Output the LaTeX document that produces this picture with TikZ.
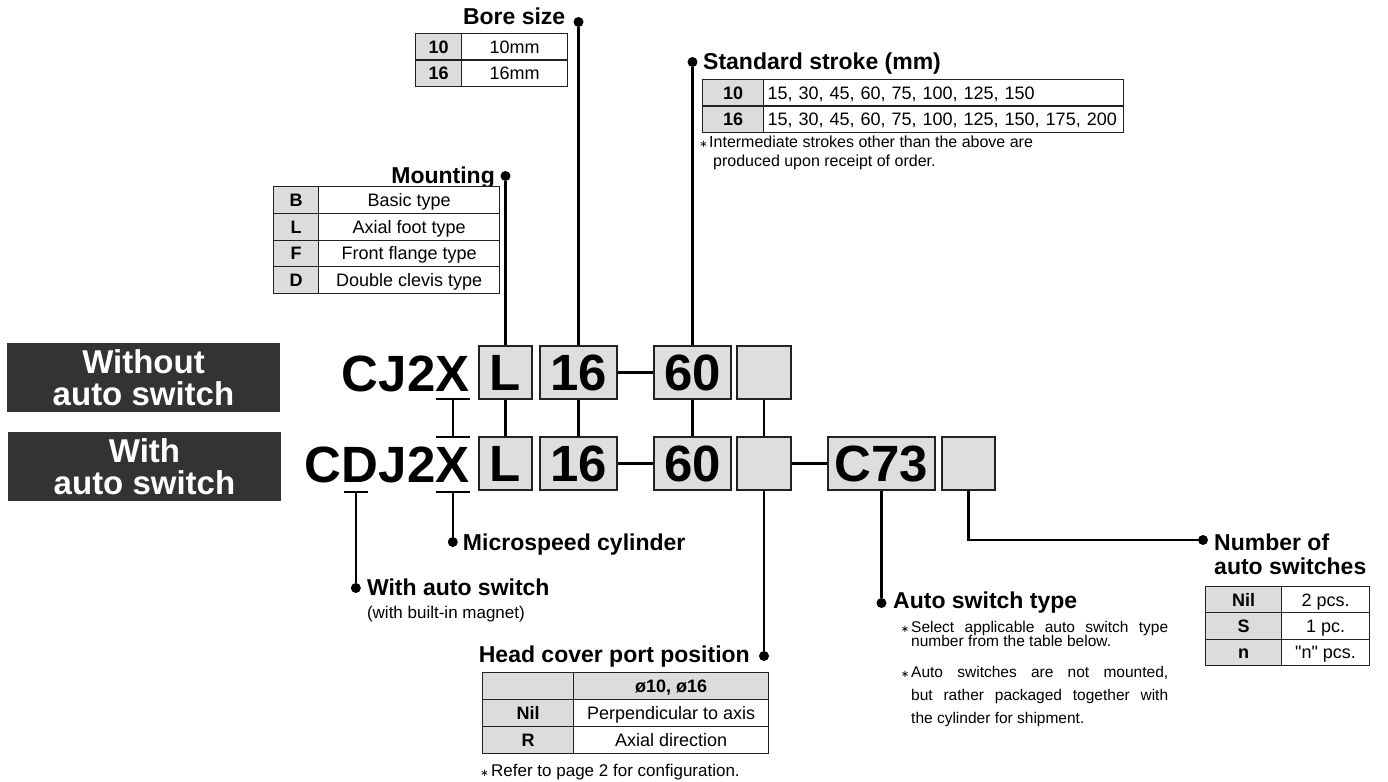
\documentclass[tikz,border=0pt]{standalone}
\usepackage{fontspec}
\setmainfont{Liberation Sans}[Ligatures=TeXOff]
\newfontfamily\djv{DejaVu Sans}
\usetikzlibrary{calc}
\newcommand\fsz[1]{\fontsize{#1}{#1}\selectfont}
\definecolor{boxgray}{HTML}{DEDEDE}
\definecolor{cellgray}{HTML}{DCDCDC}
\definecolor{darkfill}{HTML}{333333}
\definecolor{rulec}{HTML}{222222}
\begin{document}
\begin{tikzpicture}[x=1pt,y=-1pt,
  codebox/.style={draw=rulec, line width=2.6, fill=boxgray, inner sep=0, minimum height=53, font=\fsz{51}\bfseries},
  code/.style={inner sep=0, font=\fsz{51}\bfseries},
  conn/.style={line width=2.5, draw=black},
  dotn/.style={circle, fill=black, inner sep=0, minimum size=10},
  head/.style={inner sep=0, font=\fsz{23}\bfseries},
  cellg/.style={draw=rulec, line width=1.1, fill=cellgray, inner sep=0, anchor=north west, text height=13, text depth=0, font=\fsz{18}\bfseries},
  cellw/.style={draw=rulec, line width=1.1, fill=white, inner sep=0, anchor=north west, text height=13, text depth=0, font=\fsz{18}},
  note/.style={inner sep=0, anchor=base west, font=\fsz{16}},
  astn/.style={inner sep=0, anchor=base, font=\djv\fsz{10}},
  darkbox/.style={fill=darkfill, text=white, font=\fontsize{33}{32}\selectfont\bfseries, align=center, minimum width=273, minimum height=69, inner sep=0}
]
\useasboundingbox (0,0) rectangle (1388,781);

% left labels
\node[darkbox] (bwo) at (143.5,377.5) {Without\\auto switch};
\node[darkbox] (bw) at (144.5,466.5) {With\\auto switch};

% code boxes upper row
\node[codebox, minimum width=53] (uL) at (505.5,372.5) {L};
\node[codebox, minimum width=77] (u16) at (578.5,372.5) {16};
\node[codebox, minimum width=77] (u60) at (692.5,372.5) {60};
\node[codebox, minimum width=54] (ublank) at (764,372.5) {};
% lower row
\node[codebox, minimum width=53] (lL) at (505.5,463.5) {L};
\node[codebox, minimum width=77] (l16) at (578.5,463.5) {16};
\node[codebox, minimum width=77] (l60) at (692.5,463.5) {60};
\node[codebox, minimum width=54] (lblank) at (764,463.5) {};
\node[codebox, minimum width=107] (lC73) at (881.5,463.5) {C73};
\node[codebox, minimum width=53] (llast) at (968.5,463.5) {};

% codes
\node[code, anchor=base east] (ux) at (470,391) {X};
\node[code, anchor=base east] (ucj) at (ux.base west) {CJ2};
\node[code, anchor=base east] (lx) at (470,482) {X};
\node[code, anchor=base east] (lj) at (lx.base west) {J2};
\node[code, anchor=base east] (ld) at (lj.base west) {D};
\node[code, anchor=base east] (lc) at (ld.base west) {C};

% X markers
\coordinate (uxul) at ($(ux.base west)+(0,8)$);
\coordinate (uxur) at ($(ux.base east)+(0,8)$);
\coordinate (uxm) at ($(ux.base)+(0,8)$);
\coordinate (lxtl) at ($(lx.base west)+(0,-45)$);
\coordinate (lxtr) at ($(lx.base east)+(0,-45)$);
\coordinate (lxtm) at ($(lx.base)+(0,-45)$);
\coordinate (lxbl) at ($(lx.base west)+(0,10)$);
\coordinate (lxbr) at ($(lx.base east)+(0,10)$);
\coordinate (lxbm) at ($(lx.base)+(0,10)$);
\draw[conn] (uxul) -- (uxur);
\draw[conn] (lxtl) -- (lxtr);
\draw[conn] (uxm) -- (lxtm);
\draw[conn] (lxbl) -- (lxbr);
% D marker
\coordinate (ldl) at ($(ld.base)+(-16,10)$);
\coordinate (ldr) at ($(ld.base)+(8,10)$);
\coordinate (ldm) at ($(ld.base)+(-4,10)$);
\draw[conn] (ldl) -- (ldr);

% connectors between rows
\draw[conn] (uL) -- (lL);
\draw[conn] (u16) -- (l16);
\draw[conn] (u60) -- (l60);
\draw[conn] (ublank) -- (lblank);
\draw[conn] (u16) -- (u60);
\draw[conn] (l16) -- (l60);
\draw[conn] (lblank) -- (lC73);

% Bore size
\node[dotn] (dbore) at (578.5,22) {};
\node[head, anchor=base east] (tbore) at (565.5,25) {Bore size};
\draw[conn] (dbore) -- (u16);
\node[cellg, minimum width=46, minimum height=26.5] (b1a) at (415,33) {10};
\node[cellw, minimum width=106, minimum height=26.5] (b1b) at (461,33) {10mm};
\node[cellg, minimum width=46, minimum height=26.5] (b2a) at (415,59.5) {16};
\node[cellw, minimum width=106, minimum height=26.5] (b2b) at (461,59.5) {16mm};

% Mounting
\node[dotn] (dmount) at (505.5,176) {};
\node[head, anchor=base east] (tmount) at (495,183) {Mounting};
\draw[conn] (dmount) -- (uL);
\node[cellg, minimum width=45, minimum height=26.75] (m1a) at (273,186) {B};
\node[cellw, minimum width=181, minimum height=26.75] (m1b) at (318,186) {Basic type};
\node[cellg, minimum width=45, minimum height=26.75] (m2a) at (273,212.75) {L};
\node[cellw, minimum width=181, minimum height=26.75] (m2b) at (318,212.75) {Axial foot type};
\node[cellg, minimum width=45, minimum height=26.75] (m3a) at (273,239.5) {F};
\node[cellw, minimum width=181, minimum height=26.75] (m3b) at (318,239.5) {Front flange type};
\node[cellg, minimum width=45, minimum height=26.75] (m4a) at (273,266.25) {D};
\node[cellw, minimum width=181, minimum height=26.75] (m4b) at (318,266.25) {Double clevis type};

% Standard stroke
\node[dotn] (dstroke) at (692.5,62) {};
\node[head, anchor=base west] (tstroke) at (703,70) {Standard stroke (mm)};
\draw[conn] (dstroke) -- (u60);
\node[cellg, minimum width=61, minimum height=26.5] (s1a) at (702,79) {10};
\node[cellw, minimum width=360, minimum height=26.5, text width=352, align=left] (s1b) at (763,79) {15, 30, 45, 60, 75, 100, 125, 150};
\node[cellg, minimum width=61, minimum height=26.5] (s2a) at (702,105.5) {16};
\node[cellw, minimum width=360, minimum height=26.5, text width=352, align=left] (s2b) at (763,105.5) {15, 30, 45, 60, 75, 100, 125, 150, 175, 200};
\node[astn] (sa1) at (703.5,147) {∗};
\node[note] (sn1) at (709,147) {Intermediate strokes other than the above are};
\node[note] (sn2) at (713,166) {produced upon receipt of order.};

% Microspeed cylinder
\node[dotn] (dmicro) at ($(lx.base)+(0,60)$) {};
\draw[conn] (lxbm) -- (dmicro);
\node[head, anchor=base west] (tmicro) at ($(dmicro)+(10,8)$) {Microspeed cylinder};

% With auto switch
\node[dotn] (dwith) at ($(ld.base)+(-4,106)$) {};
\draw[conn] (ldm) -- (dwith);
\node[head, anchor=base west] (twith) at ($(dwith)+(11,7)$) {With auto switch};
\node[inner sep=0, anchor=base west, font=\fsz{17}] (twith2) at ($(dwith)+(11,30)$) {(with built-in magnet)};

% Head cover port position
\node[dotn] (dhead) at (764,656) {};
\draw[conn] (lblank) -- (dhead);
\node[head, anchor=base east] (thead) at (750,662) {Head cover port position};
\node[cellg, minimum width=91, minimum height=27] (h0a) at (482,672) {};
\node[cellg, minimum width=195, minimum height=27] (h0b) at (573,672) {ø10, ø16};
\node[cellg, minimum width=91, minimum height=27] (h1a) at (482,699) {Nil};
\node[cellw, minimum width=195, minimum height=27] (h1b) at (573,699) {Perpendicular to axis};
\node[cellg, minimum width=91, minimum height=27] (h2a) at (482,726) {R};
\node[cellw, minimum width=195, minimum height=27] (h2b) at (573,726) {Axial direction};
\node[astn] (ha) at (484.5,776) {∗};
\node[note, font=\fsz{17}] (hn) at (491,776) {Refer to page 2 for configuration.};

% Auto switch type
\node[dotn] (dtype) at (881.5,603) {};
\draw[conn] (lC73) -- (dtype);
\node[head, anchor=base west] (ttype) at (893,608) {Auto switch type};
\node[astn] (aa1) at (905,632) {∗};
\node[note, font=\fsz{15.5}] (an1) at (911,632) {\makebox[257pt][s]{Select applicable auto switch type}};
\node[note, font=\fsz{15.5}] (an2) at (911,646) {number from the table below.};
\node[astn] (aa2) at (905,677) {∗};
\node[note, font=\fsz{15.5}] (an3) at (911,677) {\makebox[257pt][s]{Auto switches are not mounted,}};
\node[note, font=\fsz{15.5}] (an4) at (911,700) {\makebox[257pt][s]{but rather packaged together with}};
\node[note, font=\fsz{15.5}] (an5) at (911,723) {the cylinder for shipment.};

% Number of auto switches
\node[dotn] (dnum) at (1203,540) {};
\draw[conn] (llast) |- (dnum);
\node[head, anchor=base west] (tnum1) at (1214,550) {Number of};
\node[head, anchor=base west] (tnum2) at (1214,574) {auto switches};
\node[cellg, minimum width=76, minimum height=26.3] (n1a) at (1205,586) {Nil};
\node[cellw, minimum width=88, minimum height=26.3] (n1b) at (1281,586) {2 pcs.};
\node[cellg, minimum width=76, minimum height=26.3] (n2a) at (1205,612.3) {S};
\node[cellw, minimum width=88, minimum height=26.3] (n2b) at (1281,612.3) {1 pc.};
\node[cellg, minimum width=76, minimum height=26.3] (n3a) at (1205,638.6) {n};
\node[cellw, minimum width=88, minimum height=26.3] (n3b) at (1281,638.6) {"n" pcs.};
\end{tikzpicture}
\end{document}
